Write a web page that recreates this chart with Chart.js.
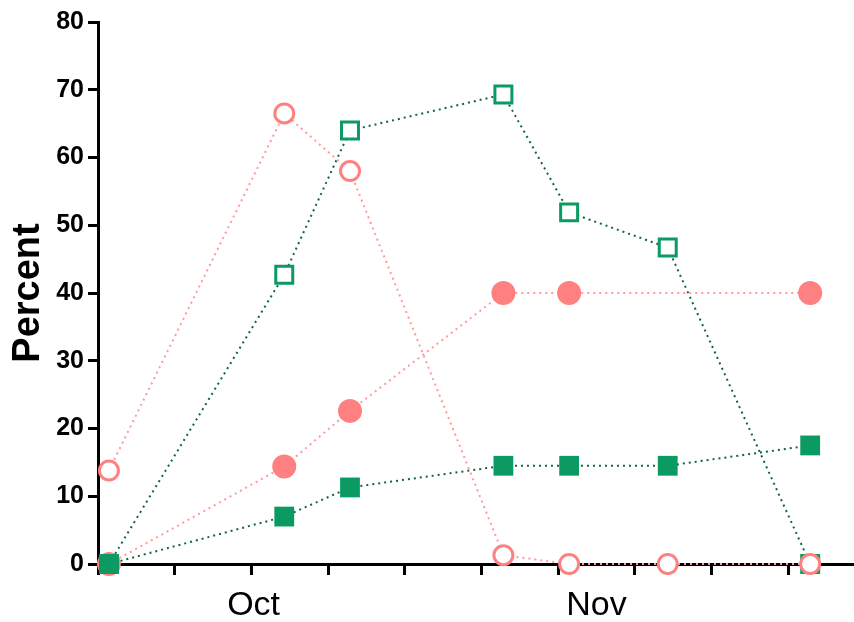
<!DOCTYPE html>
<html>
<head>
<meta charset="utf-8">
<script src="https://cdn.jsdelivr.net/npm/chart.js@4/dist/chart.umd.min.js"></script>
<style>
  html, body { margin: 0; padding: 0; background: #fff; }
  #wrap { width: 854px; height: 622px; }
</style>
</head>
<body>
<div id="wrap"><canvas id="c"></canvas></div>
<script>
// Sampling days, counted from 17 September
const days = [1, 17, 23, 37, 43, 52, 65];

// Percent values per group
const pinkOpen    = [13.8, 66.5, 58.0, 1.3, 0, 0, 0];
const pinkFilled  = [0, 14.4, 22.6, 40.0, 40.0, null, 40.0];
const greenOpen   = [0, 42.7, 64.0, 69.3, 51.9, 46.7, 0];
const greenFilled = [0, 7.0, 11.3, 14.5, 14.5, 14.5, 17.5];

// Axis ticks
const weekTicks = [0, 7, 14, 21, 28, 35, 42, 49, 56, 63];
const monthNames = ['Oct', 'Nov'];
const monthDays = [14.2, 45.5];
const yTicks = [0, 10, 20, 30, 40, 50, 60, 70, 80];

const PINK = '#FF8080';
const PINK_LINE = '#FF9A9A';
const GREEN = '#0C9A63';
const GREEN_LINE = '#0F6443';

const pts = (vals) => days.map((d, i) => ({ x: d, y: vals[i] }));

const base = {
  showLine: true,
  borderWidth: 2,
  spanGaps: true,
  clip: false,
  tension: 0
};

new Chart(document.getElementById('c'), {
  type: 'line',
  data: {
    datasets: [
      Object.assign({}, base, {
        label: 'Group 1 (open)',
        data: pts(pinkOpen),
        borderColor: PINK_LINE,
        borderDash: [2, 4],
        pointStyle: 'circle',
        pointRadius: 9.5,
        pointBorderWidth: 3,
        pointBorderColor: PINK,
        pointBackgroundColor: '#ffffff'
      }),
      Object.assign({}, base, {
        label: 'Group 2 (filled)',
        data: pts(greenFilled),
        borderColor: GREEN_LINE,
        borderDash: [2, 4],
        pointStyle: 'rect',
        pointRadius: 14,
        pointBorderWidth: 0,
        pointBorderColor: GREEN,
        pointBackgroundColor: GREEN
      }),
      Object.assign({}, base, {
        label: 'Group 2 (open)',
        data: pts(greenOpen),
        borderColor: GREEN_LINE,
        borderDash: [2, 4],
        pointStyle: 'rect',
        pointRadius: 12,
        pointBorderWidth: 3,
        pointBorderColor: GREEN,
        pointBackgroundColor: '#ffffff'
      }),
      Object.assign({}, base, {
        label: 'Group 1 (filled)',
        data: pts(pinkFilled),
        borderColor: PINK_LINE,
        borderDash: [2, 4],
        pointStyle: 'circle',
        pointRadius: 12,
        pointBorderWidth: 0,
        pointBorderColor: PINK,
        pointBackgroundColor: PINK
      })
    ]
  },
  options: {
    responsive: true,
    maintainAspectRatio: false,
    animation: false,
    layout: { autoPadding: false, padding: { top: 22, right: 0, bottom: 0, left: 0 } },
    plugins: {
      legend: { display: false },
      tooltip: { enabled: false }
    },
    scales: {
      x: {
        type: 'linear',
        min: 0,
        max: 69,
        afterBuildTicks: (scale) => {
          const vals = weekTicks.concat(monthDays).sort((a, b) => a - b);
          scale.ticks = vals.map(v => ({ value: v }));
        },
        afterFit: (scale) => { scale.height = 58; },
        border: { display: true, color: '#000', width: 3 },
        grid: {
          drawOnChartArea: false,
          drawTicks: true,
          tickLength: 11,
          tickWidth: 3,
          tickColor: (ctx) => (ctx.tick && monthDays.includes(ctx.tick.value)) ? 'rgba(0,0,0,0)' : '#000'
        },
        ticks: {
          autoSkip: false,
          maxRotation: 0,
          padding: 10,
          color: '#000',
          font: { family: 'Liberation Sans', size: 34 },
          callback: (v) => {
            const i = monthDays.indexOf(v);
            return i >= 0 ? monthNames[i] : '';
          }
        }
      },
      y: {
        min: 0,
        max: 80,
        afterBuildTicks: (scale) => { scale.ticks = yTicks.map(v => ({ value: v })); },
        afterFit: (scale) => { scale.width = 98; },
        border: { display: true, color: '#000', width: 3 },
        grid: {
          drawOnChartArea: false,
          drawTicks: true,
          tickLength: 10,
          tickWidth: 3,
          tickColor: '#000'
        },
        ticks: {
          padding: 4,
          color: '#000',
          font: { family: 'Liberation Sans', size: 25, weight: 'bold' }
        },
        title: {
          display: true,
          text: 'Percent',
          color: '#000',
          font: { family: 'Liberation Sans', size: 38, weight: 'bold' },
          padding: { top: 6, bottom: 0 }
        }
      }
    }
  }
});
</script>
</body>
</html>
